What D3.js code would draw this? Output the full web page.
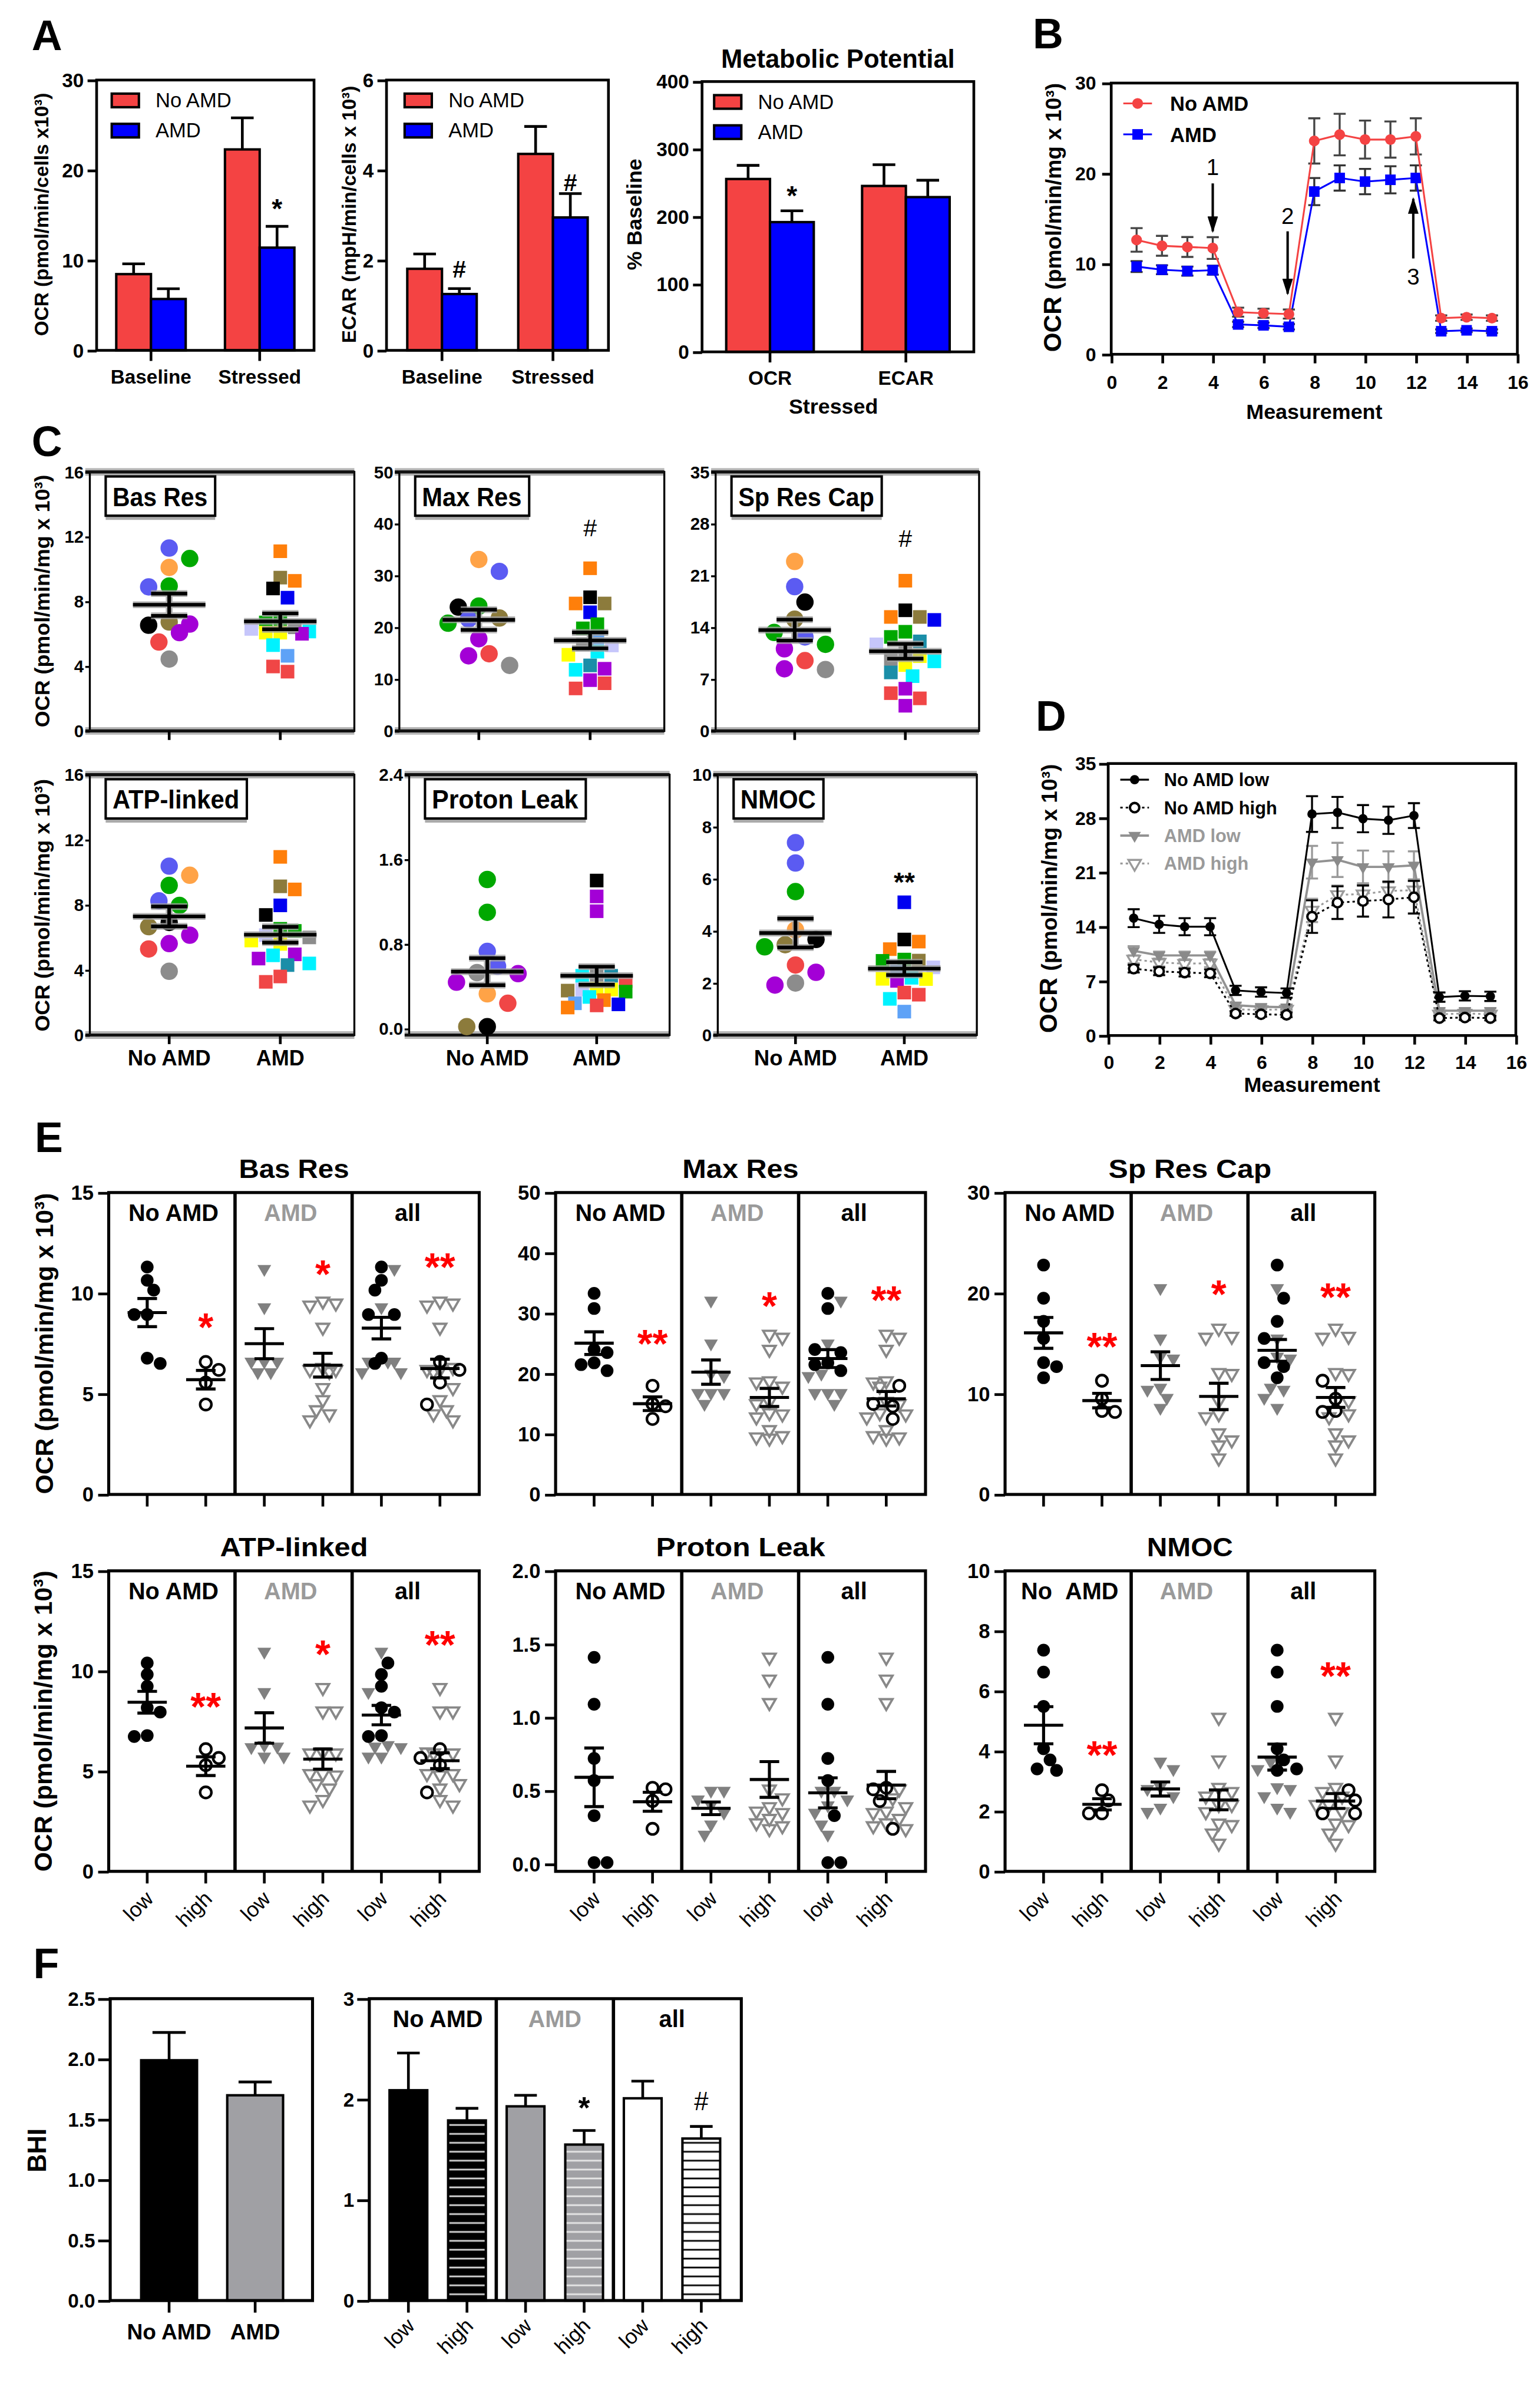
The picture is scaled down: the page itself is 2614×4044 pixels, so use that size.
<!DOCTYPE html>
<html>
<head>
<meta charset="utf-8">
<title>OCR / ECAR figure</title>
<script src="https://cdn.jsdelivr.net/npm/d3@7/dist/d3.min.js"></script>
<style>
  body { margin: 0; background: #fff; }
  svg { display: block; }
</style>
</head>
<body>
<svg id="fig" width="2614" height="4044" viewBox="0 0 1020 1578"></svg>
<script>
// ---------------- data: panel A (mean, SEM) ----------------
const A_CATS = ["Baseline", "Stressed"];
const A_OCR_NO = [8.46, 22.3], A_OCR_NO_ERR = [1.14, 3.5];
const A_OCR_AMD = [5.7, 11.4], A_OCR_AMD_ERR = [1.14, 2.36];
const A_OCR_SIG = ["", "*"], A_OCR_SIG_AT = [0, 16.4];
const A_ECAR_NO = [1.81, 4.36], A_ECAR_NO_ERR = [0.33, 0.61];
const A_ECAR_AMD = [1.25, 2.95], A_ECAR_AMD_ERR = [0.12, 0.53];
const A_ECAR_SIG = ["#", "#"], A_ECAR_SIG_AT = [1.8, 3.73];
const A_MP_CATS = ["OCR", "ECAR"];
const A_MP_NO = [255.8, 245.5], A_MP_NO_ERR = [20.2, 31.5];
const A_MP_AMD = [192, 229], A_MP_AMD_ERR = [16.7, 25];
const A_MP_SIG = ["*", ""], A_MP_SIG_AT = [240, 0];

// ---------------- data: panels B and D (measurement traces) ----------------
const MEAS = [1, 2, 3, 4, 5, 6, 7, 8, 9, 10, 11, 12, 13, 14, 15];
const B_NO = [12.65, 12.0, 11.87, 11.75, 4.66, 4.54, 4.45, 23.6, 24.3, 23.75, 23.75, 24.1, 4.0, 4.1, 4.0];
const B_NO_ERR = [1.3, 1.1, 1.1, 1.2, 0.5, 0.5, 0.5, 2.5, 2.3, 2.1, 2.0, 2.0, 0.3, 0.3, 0.3];
const B_AMD = [9.7, 9.35, 9.2, 9.3, 3.3, 3.2, 3.04, 18.0, 19.5, 19.1, 19.3, 19.5, 2.55, 2.65, 2.55];
const B_AMD_ERR = [0.6, 0.5, 0.5, 0.5, 0.3, 0.3, 0.3, 1.5, 1.4, 1.4, 1.5, 1.4, 0.2, 0.2, 0.2];
// injections: measurement, arrow tail, arrow head, label, label level
const B_ARROWS = [[4, 18.9, 13.6, "1", 20.7], [6.95, 13.6, 6.7, "2", 15.3], [11.9, 10.6, 17.2, "3", 8.6]];

const D_NO_LOW = [15.1, 14.3, 14.0, 14.0, 5.8, 5.6, 5.46, 28.5, 28.7, 27.9, 27.7, 28.3, 4.94, 5.1, 5.04];
const D_NO_LOW_ERR = [1.15, 1.1, 1.1, 1.1, 0.6, 0.6, 0.6, 2.3, 2.0, 1.75, 1.75, 1.6, 0.6, 0.6, 0.6];
const D_NO_HIGH = [8.6, 8.26, 8.1, 8.0, 2.83, 2.73, 2.66, 15.3, 17.1, 17.3, 17.5, 17.8, 2.24, 2.31, 2.24];
const D_NO_HIGH_ERR = [0.5, 0.5, 0.5, 0.5, 0.3, 0.3, 0.3, 2.1, 2.1, 2.0, 2.3, 2.1, 0.3, 0.3, 0.3];
const D_AMD_LOW = [10.9, 10.3, 10.3, 10.3, 3.9, 3.7, 3.64, 22.3, 22.6, 21.7, 21.7, 21.9, 3.2, 3.2, 3.2];
const D_AMD_LOW_ERR = [0.6, 0.5, 0.5, 0.5, 0.3, 0.3, 0.3, 2.1, 2.2, 2.1, 2.0, 1.8, 0.3, 0.3, 0.3];
const D_AMD_HIGH = [9.8, 9.4, 9.24, 9.3, 3.36, 3.3, 3.36, 16.1, 18.1, 18.2, 18.6, 18.7, 2.73, 2.84, 2.73];
const D_AMD_HIGH_ERR = [0.5, 0.5, 0.5, 0.5, 0.3, 0.3, 0.3, 1.5, 1.2, 1.2, 1.2, 1.2, 0.3, 0.3, 0.3];

// ---------------- data: panel C (per donor, colour key = donor) ----------------
const C_BAS_NO = [11.3, 10.65, 10.1, 8.95, 8.9, 6.73, 6.6, 6.53, 6.07, 5.49, 4.44];
const C_BAS_NO_ID = ["blue", "green", "orange", "green", "blue", "olive", "purple", "black", "purple", "red", "gray"];
const C_BAS_AMD = [11.1, 9.47, 9.27, 8.8, 8.23, 6.92, 6.7, 6.4, 6.3, 6.14, 6.07, 6.07, 6.0, 5.3, 4.64, 3.98, 3.66];
const C_BAS_AMD_ID = ["dorange", "olive", "dorange", "black", "dblue", "green", "green", "gray", "lavender", "cyan", "yellow", "yellow", "purple", "cyan", "lightblue", "red", "red"];

const C_MAX_NO = [33.1, 30.8, 24.1, 23.9, 21.8, 21.6, 20.8, 17.8, 14.9, 14.5, 12.65];
const C_MAX_NO_ID = ["orange", "blue", "green", "black", "olive", "blue", "green", "purple", "red", "purple", "gray"];
const C_MAX_AMD = [31.4, 25.8, 24.6, 24.6, 22.9, 20.6, 19.8, 18.0, 16.7, 16.5, 15.3, 14.7, 12.65, 12.0, 11.8, 9.8, 9.2, 8.2];
const C_MAX_AMD_ID = ["dorange", "black", "olive", "dorange", "dblue", "green", "green", "lightblue", "gray", "lavender", "cyan", "yellow", "teal", "purple", "cyan", "purple", "red", "red"];

const C_SP_NO = [22.9, 19.5, 17.4, 15.1, 13.3, 12.7, 11.7, 11.1, 9.5, 8.4, 8.3];
const C_SP_NO_ID = ["orange", "blue", "black", "olive", "green", "blue", "green", "purple", "red", "purple", "gray"];
const C_SP_AMD = [20.3, 16.3, 15.4, 15.4, 15.0, 13.4, 12.7, 12.1, 11.7, 10.9, 10.1, 9.7, 9.4, 8.9, 7.9, 7.4, 5.7, 5.1, 4.4, 3.4];
const C_SP_AMD_ID = ["dorange", "black", "olive", "dorange", "dblue", "green", "green", "teal", "lavender", "gray", "yellow", "gray", "cyan", "yellow", "teal", "cyan", "purple", "red", "red", "purple"];

const C_ATP_NO = [10.38, 9.82, 9.2, 8.25, 7.97, 6.92, 6.66, 6.14, 5.62, 5.29, 3.92];
const C_ATP_NO_ID = ["blue", "orange", "green", "blue", "green", "black", "olive", "purple", "purple", "red", "gray"];
const C_ATP_AMD = [10.95, 9.14, 8.95, 7.97, 7.38, 6.53, 6.4, 6.14, 6.0, 5.81, 5.6, 4.96, 4.9, 4.7, 4.4, 4.3, 3.6, 3.27];
const C_ATP_AMD_ID = ["dorange", "olive", "dorange", "dblue", "black", "green", "green", "lavender", "gray", "yellow", "yellow", "purple", "cyan", "purple", "cyan", "teal", "red", "red"];

const C_PL_NO = [1.41, 1.10, 0.73, 0.59, 0.53, 0.52, 0.44, 0.33, 0.24, 0.02, 0.02];
const C_PL_NO_ID = ["green", "green", "blue", "blue", "gray", "purple", "purple", "orange", "red", "black", "olive"];
const C_PL_AMD = [1.40, 1.25, 1.11, 0.51, 0.5, 0.5, 0.45, 0.38, 0.37, 0.37, 0.36, 0.35, 0.3, 0.27, 0.24, 0.23, 0.22, 0.2];
const C_PL_AMD_ID = ["black", "purple", "purple", "gray", "teal", "cyan", "red", "yellow", "lavender", "yellow", "olive", "green", "cyan", "dorange", "lightblue", "dblue", "red", "dorange"];

const C_NMOC_NO = [7.39, 6.61, 5.51, 4.04, 3.67, 3.47, 3.39, 2.69, 2.41, 2.0, 1.92];
const C_NMOC_NO_ID = ["blue", "blue", "green", "orange", "black", "olive", "green", "red", "purple", "gray", "purple"];
const C_NMOC_AMD = [5.1, 3.67, 3.59, 3.3, 2.9, 2.86, 2.85, 2.6, 2.45, 2.2, 2.16, 2.15, 2.08, 1.63, 1.55, 1.39, 0.9];
const C_NMOC_AMD_ID = ["dblue", "black", "dorange", "dorange", "green", "olive", "green", "lavender", "lightblue", "cyan", "yellow", "yellow", "purple", "red", "red", "cyan", "lightblue"];

// ---------------- data: panel E (low / high groups) ----------------
const E_GROUPS = ["No AMD", "AMD", "all"];
const E_XLABELS = ["low", "high", "low", "high", "low", "high"];

const E_BAS_NO_LOW = [11.3, 10.64, 10.15, 8.94, 8.94, 6.77, 6.51];
const E_BAS_NO_HIGH = [6.58, 6.19, 5.56, 4.47];
const E_BAS_AMD_LOW = [11.2, 9.3, 6.6, 6.6, 6.6, 6.07, 6.07];
const E_BAS_AMD_HIGH = [9.6, 9.5, 9.4, 8.3, 6.3, 6.2, 6.2, 6.1, 5.3, 4.7, 4.2, 4.0, 3.7];
const E_BAS_SIG = [[1, "*", 8.77], [3, "*", 11.4], [5, "**", 11.75]];

const E_MAX_NO_LOW = [33.3, 30.8, 24.0, 23.5, 21.8, 21.5, 20.5];
const E_MAX_NO_HIGH = [18.0, 15.0, 14.6, 12.5];
const E_MAX_AMD_LOW = [32.1, 25.0, 20.0, 19.6, 16.8, 16.8, 16.8, 15.0];
const E_MAX_AMD_HIGH = [26.5, 26.0, 24.0, 18.8, 18.6, 17.9, 15.4, 15.0, 13.5, 13.3, 12.8, 10.7, 9.7, 9.5, 9.3];
const E_MAX_SIG = [[1, "**", 26.5], [3, "*", 32.7], [5, "**", 33.7]];

const E_SP_NO_LOW = [22.8, 19.5, 17.2, 15.5, 13.1, 12.7, 11.6];
const E_SP_NO_HIGH = [11.3, 9.5, 8.3, 8.2];
const E_SP_AMD_LOW = [20.5, 15.5, 13.7, 13.5, 10.6, 10.4, 9.6, 8.6];
const E_SP_AMD_HIGH = [16.5, 15.7, 15.6, 12.1, 12.0, 9.3, 8.0, 7.7, 6.1, 5.4, 4.9, 3.6];
const E_SP_SIG = [[1, "**", 15.6], [3, "*", 20.8], [5, "**", 20.5]];

const E_ATP_NO_LOW = [10.4, 9.83, 9.24, 8.17, 7.95, 6.78, 6.73];
const E_ATP_NO_HIGH = [6.1, 5.66, 5.3, 3.94];
const E_ATP_AMD_LOW = [10.96, 8.95, 6.3, 6.23, 6.2, 5.73, 5.73];
const E_ATP_AMD_HIGH = [9.17, 8.0, 8.0, 5.95, 5.9, 5.9, 4.87, 4.87, 4.8, 4.37, 4.15, 3.58, 3.3];
const E_ATP_SIG = [[1, "**", 8.67], [3, "*", 11.3], [5, "**", 11.75]];

const E_PL_NO_LOW = [1.41, 1.09, 0.72, 0.57, 0.33, 0.01, 0.01];
const E_PL_NO_HIGH = [0.52, 0.51, 0.43, 0.24];
const E_PL_AMD_LOW = [0.5, 0.5, 0.44, 0.4, 0.35, 0.27, 0.2];
const E_PL_AMD_HIGH = [1.41, 1.26, 1.1, 0.51, 0.45, 0.39, 0.36, 0.35, 0.31, 0.28, 0.26, 0.24];
const E_PL_SIG = [];

const E_NMOC_NO_LOW = [7.36, 6.63, 5.49, 4.08, 3.71, 3.41, 3.36];
const E_NMOC_NO_HIGH = [2.7, 2.36, 1.93, 1.93];
const E_NMOC_AMD_LOW = [3.65, 3.4, 2.8, 2.74, 2.5, 2.12, 1.98];
const E_NMOC_AMD_HIGH = [5.12, 3.7, 2.79, 2.65, 2.5, 2.22, 2.22, 1.98, 1.6, 1.55, 1.27, 0.93];
const E_NMOC_SIG = [[1, "**", 4.17], [5, "**", 6.8]];

// ---------------- data: panel F (BHI) ----------------
const F_CATS1 = ["No AMD", "AMD"];
const F_BHI1 = [1.99, 1.70], F_BHI1_ERR = [0.23, 0.11];
const F_BHI2 = [2.09, 1.79, 1.93, 1.55, 2.01, 1.61];
const F_BHI2_ERR = [0.37, 0.12, 0.11, 0.14, 0.17, 0.12];
const F_SIG2 = ["", "", "", "*", "", "#"], F_SIG2_AT = [0, 0, 0, 1.98, 0, 1.98];

// ---------------- drawing ----------------
const FONT = '"Liberation Sans", Arial, Helvetica, sans-serif';
const RED = "#f44343", BLUE = "#0000ff";
const DONOR = {
  blue: "#5b5bf2", orange: "#ffa347", green: "#00a800", olive: "#8c7b3c", purple: "#a300d6",
  red: "#f04646", gray: "#8c8c8c", black: "#000000", dblue: "#0000f0", dorange: "#ff7f0a",
  yellow: "#ffff00", cyan: "#00f2ff", lightblue: "#5ea2f7", teal: "#1a8ea8", lavender: "#c6c6fb"
};

const svg = d3.select("#fig");
svg.append("rect").attr("width", 1020).attr("height", 1578).attr("fill", "#fff");
const defs = svg.append("defs");

function t(g, x, y, s, size, o = {}) {
  const el = g.append("text")
    .attr("x", x).attr("y", y)
    .attr("font-family", FONT)
    .attr("font-size", size)
    .attr("font-weight", o.weight || "bold")
    .attr("text-anchor", o.anchor || "middle")
    .attr("fill", o.fill || "#000")
    .text(s);
  if (o.w) el.attr("textLength", o.w).attr("lengthAdjust", "spacingAndGlyphs");
  if (o.rotate) el.attr("transform", `rotate(${o.rotate},${x},${y})`);
  return el;
}

// text centred vertically on yc (asterisks sit high in the em box)
function mark(g, x, yc, s, size, fill, weight) {
  const k = s.includes("*") ? 0.57 : 0.35;
  return t(g, x, yc + k * size, s, size, {fill: fill || "#000", weight: weight || "bold"});
}

function yTitle(cx, cy, parts) {
  const big = d3.max(parts, p => p[1]);
  const el = svg.append("text")
    .attr("transform", `translate(${cx + 0.36 * big},${cy}) rotate(-90)`)
    .attr("text-anchor", "middle")
    .attr("font-family", FONT).attr("font-weight", "bold").attr("fill", "#000");
  parts.forEach(p => el.append("tspan").attr("font-size", p[1]).text(p[0]));
}

function leftAxis(g, y, x0, ticks, fmt, o) {
  const ax = g.append("g").attr("transform", `translate(${x0},0)`)
    .call(d3.axisLeft(y).tickValues(ticks).tickFormat(fmt).tickSize(o.tick).tickPadding(o.pad));
  ax.select(".domain").remove();
  ax.selectAll(".tick line").attr("stroke", "#000").attr("stroke-width", o.sw || 1.8);
  ax.selectAll(".tick text").attr("font-family", FONT).attr("font-size", o.size)
    .attr("font-weight", o.weight || "bold").attr("fill", "#000");
  return ax;
}

function frame(g, l, tp, r, b, sw) {
  g.append("rect").attr("x", l).attr("y", tp).attr("width", r - l).attr("height", b - tp)
    .attr("fill", "none").attr("stroke", "#000").attr("stroke-width", sw || 1.8);
}

function vtick(g, x, y0, len) {
  g.append("line").attr("x1", x).attr("x2", x).attr("y1", y0).attr("y2", y0 + len)
    .attr("stroke", "#000").attr("stroke-width", 1.8);
}

// horizontal spread of scatter points, alternating sides, limited width
function jitter(vals, y, step, minDist, maxSlot) {
  const order = d3.range(vals.length).sort((a, b) => vals[b] - vals[a]);
  const placed = [], off = new Array(vals.length).fill(0);
  let side = 1;
  order.forEach(i => {
    const py = y(vals[i]);
    const slots = [0];
    for (let s = 1; s <= maxSlot; s++) slots.push(side * s, -side * s);
    const gap = px => placed.length ? d3.min(placed, p => Math.hypot(p[0] - px, p[1] - py)) : Infinity;
    let best = slots.find(s => gap(s * step) >= minDist);
    if (best === undefined) best = d3.greatest(slots, s => gap(s * step));
    if (best !== 0) side = -Math.sign(best);
    off[i] = best * step;
    placed.push([off[i], py]);
  });
  return off;
}

function meanSem(v) {
  return [d3.mean(v), d3.deviation(v) / Math.sqrt(v.length)];
}

// ---------- panel letters ----------
[["A", 21, 33], ["B", 684, 32], ["C", 21, 302], ["D", 686, 484], ["E", 23, 763], ["F", 22, 1310]]
  .forEach(d => t(svg, d[1], d[2], d[0], 28, {anchor: "start"}));

// ---------- panel A ----------
function barsA(o) {
  const g = svg.append("g");
  const y = d3.scaleLinear().domain(o.domain).range([o.bottom, o.top]);
  const x = d3.scaleBand().domain(o.cats).range([o.left, o.right]);
  const grp = d3.scaleBand().domain(["No AMD", "AMD"]).range([-o.barW, o.barW]);
  const rows = o.cats.flatMap((c, i) => [
    {c, k: "No AMD", v: o.no[i], e: o.noErr[i], fill: RED, sig: ""},
    {c, k: "AMD", v: o.amd[i], e: o.amdErr[i], fill: BLUE, sig: o.sig[i], at: o.sigAt[i]}
  ]);
  const cx = d => x(d.c) + x.bandwidth() / 2 + grp(d.k) + grp.bandwidth() / 2;
  g.append("g").selectAll("path").data(rows).join("path")
    .attr("d", d => `M${cx(d)},${y(d.v)}V${y(d.v + d.e)}M${cx(d) - 7.5},${y(d.v + d.e)}H${cx(d) + 7.5}`)
    .attr("fill", "none").attr("stroke", "#000").attr("stroke-width", 1.8);
  g.append("g").selectAll("rect").data(rows).join("rect")
    .attr("x", d => cx(d) - o.barW / 2).attr("y", d => y(d.v))
    .attr("width", o.barW).attr("height", d => y(0) - y(d.v))
    .attr("fill", d => d.fill).attr("stroke", "#000").attr("stroke-width", 1.6);
  frame(g, o.left, o.top, o.right, o.bottom);
  leftAxis(g, y, o.left, o.ticks, d3.format("d"), {tick: 6, pad: 2.5, size: 13});
  o.cats.forEach(c => {
    const xc = x(c) + x.bandwidth() / 2;
    vtick(g, xc, o.bottom, 7);
    t(g, xc, o.bottom + 22, c, 13);
  });
  rows.filter(d => d.sig).forEach(d => mark(g, cx(d), y(d.at), d.sig, d.sig === "#" ? 16 : 18));
  [["No AMD", RED], ["AMD", BLUE]].forEach((l, i) => {
    g.append("rect").attr("x", o.legX).attr("y", o.top + 9 + i * 20).attr("width", 18).attr("height", 9)
      .attr("fill", l[1]).attr("stroke", "#000").attr("stroke-width", 1.6);
    t(g, o.legX + 29, o.top + 18 + i * 20, l[0], 13.5, {anchor: "start", weight: "normal"});
  });
}

barsA({left: 64, right: 208, top: 53, bottom: 232, domain: [0, 30], ticks: [0, 10, 20, 30], barW: 23,
  cats: A_CATS, no: A_OCR_NO, noErr: A_OCR_NO_ERR, amd: A_OCR_AMD, amdErr: A_OCR_AMD_ERR,
  sig: A_OCR_SIG, sigAt: A_OCR_SIG_AT, legX: 74});
barsA({left: 256, right: 403, top: 53, bottom: 232, domain: [0, 6], ticks: [0, 2, 4, 6], barW: 23,
  cats: A_CATS, no: A_ECAR_NO, noErr: A_ECAR_NO_ERR, amd: A_ECAR_AMD, amdErr: A_ECAR_AMD_ERR,
  sig: A_ECAR_SIG, sigAt: A_ECAR_SIG_AT, legX: 268});
barsA({left: 465, right: 645, top: 54, bottom: 233, domain: [0, 400], ticks: [0, 100, 200, 300, 400], barW: 29,
  cats: A_MP_CATS, no: A_MP_NO, noErr: A_MP_NO_ERR, amd: A_MP_AMD, amdErr: A_MP_AMD_ERR,
  sig: A_MP_SIG, sigAt: A_MP_SIG_AT, legX: 473});
t(svg, 555, 45, "Metabolic Potential", 17);
t(svg, 552, 274, "Stressed", 14);
yTitle(27.5, 142, [["OCR (pmol/min/cells x10³)", 13]]);
yTitle(231, 142, [["ECAR (mpH/min/cells x 10³)", 13]]);
yTitle(420, 142, [["% Baseline", 14]]);

// ---------- panels B and D ----------
defs.append("marker").attr("id", "arrow").attr("viewBox", "0 0 10 10")
  .attr("refX", 9).attr("refY", 5).attr("markerUnits", "userSpaceOnUse")
  .attr("markerWidth", 11).attr("markerHeight", 7).attr("orient", "auto")
  .attr("preserveAspectRatio", "none")
  .append("path").attr("d", "M0,0L10,5L0,10z").attr("fill", "#000");

function traces(o) {
  const g = svg.append("g");
  const x = d3.scaleLinear().domain([0, 16]).range([o.left, o.right]);
  const y = d3.scaleLinear().domain(o.domain).range([o.bottom, o.top]);
  o.series.forEach(s => {
    const pts = s.vals.map((v, i) => ({m: MEAS[i], v, e: s.errs[i]}));
    g.append("g").selectAll("path").data(pts).join("path")
      .attr("d", d => `M${x(d.m)},${y(d.v - d.e)}V${y(d.v + d.e)}M${x(d.m) - 4},${y(d.v + d.e)}h8M${x(d.m) - 4},${y(d.v - d.e)}h8`)
      .attr("fill", "none").attr("stroke", s.errColor).attr("stroke-width", 1.3);
    g.append("path").datum(pts)
      .attr("d", d3.line().x(d => x(d.m)).y(d => y(d.v)))
      .attr("fill", "none").attr("stroke", s.color).attr("stroke-width", s.lw || 1.2)
      .attr("stroke-dasharray", s.dash || null);
    g.append("g").selectAll("path").data(pts).join("path")
      .attr("transform", d => `translate(${x(d.m)},${y(d.v)})${s.down ? " rotate(180)" : ""}`)
      .attr("d", d3.symbol(s.symbol, s.size))
      .attr("fill", s.fill).attr("stroke", s.stroke || "none").attr("stroke-width", s.sw || 0);
  });
  frame(g, o.left, o.top, o.right, o.bottom);
  leftAxis(g, y, o.left, o.ticks, d3.format("d"), {tick: 6, pad: o.ypad, size: 12.5});
  const xa = g.append("g").attr("transform", `translate(0,${o.bottom})`)
    .call(d3.axisBottom(x).tickValues([0, 2, 4, 6, 8, 10, 12, 14, 16]).tickSize(6).tickPadding(o.xpad));
  xa.select(".domain").remove();
  xa.selectAll(".tick line").attr("stroke", "#000").attr("stroke-width", 1.8);
  xa.selectAll(".tick text").attr("font-family", FONT).attr("font-size", 12.5).attr("font-weight", "bold").attr("fill", "#000");
  t(g, (o.left + o.right) / 2, o.xTitleY, "Measurement", 14);
  // legend
  o.series.slice().reverse().forEach((s, i) => {
    const ly = o.top + o.legY0 + i * o.legStep;
    g.append("line").attr("x1", o.left + 8).attr("x2", o.left + 27).attr("y1", ly).attr("y2", ly)
      .attr("stroke", s.color).attr("stroke-width", s.lw || 1.2).attr("stroke-dasharray", s.dash || null);
    g.append("path").attr("transform", `translate(${o.left + 17.5},${ly})${s.down ? " rotate(180)" : ""}`)
      .attr("d", d3.symbol(s.symbol, s.size)).attr("fill", s.fill)
      .attr("stroke", s.stroke || "none").attr("stroke-width", s.sw || 0);
    t(g, o.left + o.legTextDx, ly + 0.36 * o.legSize, s.name, o.legSize, {anchor: "start", fill: s.textColor || "#000"});
  });
  return {g, x, y};
}

const B = traces({left: 736, right: 1005, top: 55, bottom: 234.6, domain: [0, 30], ticks: [0, 10, 20, 30],
  ypad: 4, xpad: 8, xTitleY: 277.5, legY0: 13.5, legStep: 20.5, legTextDx: 39, legSize: 13.5,
  series: [
    {name: "AMD", vals: B_AMD, errs: B_AMD_ERR, color: BLUE, errColor: "#333", symbol: d3.symbolSquare, size: 49, fill: BLUE},
    {name: "No AMD", vals: B_NO, errs: B_NO_ERR, color: RED, errColor: "#444", symbol: d3.symbolCircle, size: 40, fill: RED}
  ]});
B_ARROWS.forEach(a => {
  B.g.append("line").attr("x1", B.x(a[0])).attr("x2", B.x(a[0])).attr("y1", B.y(a[1])).attr("y2", B.y(a[2]))
    .attr("stroke", "#000").attr("stroke-width", 1.6).attr("marker-end", "url(#arrow)");
  mark(B.g, B.x(a[0]), B.y(a[4]), a[3], 15, "#000", "normal");
});
yTitle(697, 144, [["OCR ", 16.5], ["(pmol/min/mg x 10³)", 14.5]]);

traces({left: 734, right: 1004, top: 505.6, bottom: 685.7, domain: [0, 35], ticks: [0, 7, 14, 21, 28, 35],
  ypad: 2, xpad: 7.4, xTitleY: 723, legY0: 10.7, legStep: 18.5, legTextDx: 37, legSize: 12,
  series: [
    {name: "AMD high", vals: D_AMD_HIGH, errs: D_AMD_HIGH_ERR, color: "#9a9a9a", errColor: "#a0a0a0", dash: "1.6,2",
      symbol: d3.symbolTriangle, size: 30, down: true, fill: "#fff", stroke: "#9a9a9a", sw: 1.3, textColor: "#9a9a9a"},
    {name: "AMD low", vals: D_AMD_LOW, errs: D_AMD_LOW_ERR, color: "#929292", errColor: "#9a9a9a", lw: 1.5,
      symbol: d3.symbolTriangle, size: 30, down: true, fill: "#8a8a8a", textColor: "#9a9a9a"},
    {name: "No AMD high", vals: D_NO_HIGH, errs: D_NO_HIGH_ERR, color: "#000", errColor: "#000", dash: "1.6,2",
      symbol: d3.symbolCircle, size: 30, fill: "#fff", stroke: "#000", sw: 1.6},
    {name: "No AMD low", vals: D_NO_LOW, errs: D_NO_LOW_ERR, color: "#000", errColor: "#000",
      symbol: d3.symbolCircle, size: 30, fill: "#000"}
  ]});
yTitle(694, 595, [["OCR ", 16.5], ["(pmol/min/mg x 10³)", 14.5]]);

// ---------- panel C ----------
function scatterC(o) {
  const g = svg.append("g");
  const W = o.right - o.left;
  const y = d3.scaleLinear().domain(o.domain).range([o.bottom, o.top]);
  const x = d3.scalePoint().domain(["No AMD", "AMD"]).range([o.left + 0.30 * W, o.left + 0.72 * W]);
  [o.top, o.bottom].forEach(yy => {
    g.append("line").attr("x1", o.left - 3).attr("x2", o.right).attr("y1", yy).attr("y2", yy)
      .attr("stroke", "#b4b4b4").attr("stroke-width", 5);
  });
  frame(g, o.left, o.top, o.right, o.bottom, 1.3);
  [o.top, o.bottom].forEach(yy => {
    g.append("line").attr("x1", o.left - 3).attr("x2", o.right).attr("y1", yy).attr("y2", yy)
      .attr("stroke", "#111").attr("stroke-width", 2);
  });
  leftAxis(g, y, o.left, o.ticks, o.fmt, {tick: 3, pad: 1, size: 11.5, sw: 1.3});
  // title box
  g.append("line").attr("x1", o.left + 10.5).attr("x2", o.left + 20 + o.titleW).attr("y1", o.top + 30.5).attr("y2", o.top + 30.5)
    .attr("stroke", "#aaa").attr("stroke-width", 2.5);
  g.append("rect").attr("x", o.left + 10.5).attr("y", o.top + 3).attr("width", o.titleW + 9.5).attr("height", 26)
    .attr("fill", "#fff").attr("stroke", "#000").attr("stroke-width", 1.6);
  t(g, o.left + 15, o.top + 22.5, o.title, 17.5, {anchor: "start", w: o.titleW});
  const sets = [
    {k: "No AMD", vals: o.no, ids: o.noIds, sym: d3.symbolCircle, size: 104, step: 6.8, dist: 11.8, max: 3},
    {k: "AMD", vals: o.amd, ids: o.amdIds, sym: d3.symbolSquare, size: 81, step: 4.8, dist: 8.6, max: 4}
  ];
  sets.forEach(s => {
    const off = jitter(s.vals, y, s.step, s.dist, s.max);
    g.append("g").selectAll("path").data(s.vals).join("path")
      .attr("transform", (v, i) => `translate(${x(s.k) + off[i]},${y(v)})`)
      .attr("d", d3.symbol(s.sym, s.size))
      .attr("fill", (v, i) => DONOR[s.ids[i]]);
  });
  sets.forEach(s => {
    const [m, se] = meanSem(s.vals);
    const xc = x(s.k);
    const p = `M${xc - 24},${y(m)}H${xc + 24}M${xc},${y(m - se)}V${y(m + se)}` +
      `M${xc - 12},${y(m + se)}H${xc + 12}M${xc - 12},${y(m - se)}H${xc + 12}`;
    g.append("path").attr("d", p).attr("stroke", "#a0a0a0").attr("stroke-width", 4.5).attr("fill", "none").attr("opacity", 0.8);
    g.append("path").attr("d", p).attr("stroke", "#000").attr("stroke-width", 2.4).attr("fill", "none");
  });
  x.domain().forEach(k => vtick(g, x(k), o.bottom, 6));
  if (o.xLabels) {
    t(g, x("No AMD"), o.bottom + 20, "No AMD", 14.5, {w: 55});
    t(g, x("AMD"), o.bottom + 20, "AMD", 14.5, {w: 32});
  }
  if (o.sig) mark(g, x("AMD"), y(o.sigAt), o.sig, o.sig === "#" ? 16 : 18, "#000", o.sig === "#" ? "normal" : "bold");
}

const fmt0 = d3.format("d"), fmt1 = d3.format(".1f");
scatterC({left: 59.5, right: 234.7, top: 312.5, bottom: 484, domain: [0, 16], ticks: [0, 4, 8, 12, 16], fmt: fmt0,
  title: "Bas Res", titleW: 63, no: C_BAS_NO, noIds: C_BAS_NO_ID, amd: C_BAS_AMD, amdIds: C_BAS_AMD_ID});
scatterC({left: 264.5, right: 440, top: 312.5, bottom: 484, domain: [0, 50], ticks: [0, 10, 20, 30, 40, 50], fmt: fmt0,
  title: "Max Res", titleW: 66, no: C_MAX_NO, noIds: C_MAX_NO_ID, amd: C_MAX_AMD, amdIds: C_MAX_AMD_ID, sig: "#", sigAt: 39.2});
scatterC({left: 474, right: 648.5, top: 312.5, bottom: 484, domain: [0, 35], ticks: [0, 7, 14, 21, 28, 35], fmt: fmt0,
  title: "Sp Res Cap", titleW: 90, no: C_SP_NO, noIds: C_SP_NO_ID, amd: C_SP_AMD, amdIds: C_SP_AMD_ID, sig: "#", sigAt: 26});
scatterC({left: 59.5, right: 234.7, top: 513, bottom: 685.4, domain: [0, 16], ticks: [0, 4, 8, 12, 16], fmt: fmt0,
  title: "ATP-linked", titleW: 84, no: C_ATP_NO, noIds: C_ATP_NO_ID, amd: C_ATP_AMD, amdIds: C_ATP_AMD_ID, xLabels: true});
scatterC({left: 271, right: 443.5, top: 513, bottom: 685.4, domain: [-0.06, 2.4], ticks: [0, 0.8, 1.6, 2.4], fmt: fmt1,
  title: "Proton Leak", titleW: 97, no: C_PL_NO, noIds: C_PL_NO_ID, amd: C_PL_AMD, amdIds: C_PL_AMD_ID, xLabels: true});
scatterC({left: 475.4, right: 647, top: 513, bottom: 685.4, domain: [0, 10], ticks: [0, 2, 4, 6, 8, 10], fmt: fmt0,
  title: "NMOC", titleW: 50, no: C_NMOC_NO, noIds: C_NMOC_NO_ID, amd: C_NMOC_AMD, amdIds: C_NMOC_AMD_ID, xLabels: true,
  sig: "**", sigAt: 6.1});
yTitle(27.6, 398, [["OCR (pmol/min/mg x 10³)", 14]]);
yTitle(27.6, 599.5, [["OCR (pmol/min/mg x 10³)", 14]]);

// ---------- panel E ----------
function scatterE(o) {
  const g = svg.append("g");
  const y = d3.scaleLinear().domain(o.domain).range([o.bottom, o.top]);
  const x = d3.scalePoint().domain(d3.range(6)).range([o.left + 25.5, o.right - 26]);
  const cols = [
    [[o.noLow, "fc"]], [[o.noHigh, "oc"]], [[o.amdLow, "ft"]], [[o.amdHigh, "ot"]],
    [[o.amdLow, "ft"], [o.noLow, "fc"]], [[o.amdHigh, "ot"], [o.noHigh, "oc"]]
  ];
  cols.forEach((sets, ci) => {
    const pts = sets.flatMap(([vals, kind]) => vals.map(v => ({v, kind})));
    const off = jitter(pts.map(p => p.v), y, 4.3, 7.5, 3);
    g.append("g").selectAll("path").data(pts).join("path")
      .attr("transform", (p, i) => `translate(${x(ci) + off[i]},${y(p.v)})` + (p.kind[1] === "t" ? " rotate(180)" : ""))
      .attr("d", p => p.kind[1] === "c" ? d3.symbol(d3.symbolCircle, p.kind === "fc" ? 56 : 44)() : d3.symbol(d3.symbolTriangle, p.kind === "ft" ? 36 : 30)())
      .attr("fill", p => p.kind === "fc" ? "#000" : p.kind === "ft" ? "#808080" : "none")
      .attr("stroke", p => p.kind === "oc" ? "#000" : p.kind === "ot" ? "#888" : "none")
      .attr("stroke-width", p => p.kind === "oc" ? 1.7 : 1.5);
    const [m, se] = meanSem(pts.map(p => p.v));
    const xc = x(ci);
    g.append("path")
      .attr("d", `M${xc - 13},${y(m)}H${xc + 13}M${xc},${y(m - se)}V${y(m + se)}M${xc - 6.5},${y(m + se)}H${xc + 6.5}M${xc - 6.5},${y(m - se)}H${xc + 6.5}`)
      .attr("fill", "none").attr("stroke", "#000").attr("stroke-width", 2);
  });
  frame(g, o.left, o.top, o.right, o.bottom, 2);
  [(x(1) + x(2)) / 2, (x(3) + x(4)) / 2].forEach(xd => {
    g.append("line").attr("x1", xd).attr("x2", xd).attr("y1", o.top).attr("y2", o.bottom)
      .attr("stroke", "#000").attr("stroke-width", 2.2);
  });
  leftAxis(g, y, o.left, o.ticks, o.fmt, {tick: 7, pad: 3, size: 13.5});
  d3.range(6).forEach(i => {
    vtick(g, x(i), o.bottom, 8);
    if (o.xLabels) t(g, x(i) + 5, o.bottom + 19, E_XLABELS[i], 14, {anchor: "end", weight: "normal", rotate: -45});
  });
  const heads = [o.noName || E_GROUPS[0], E_GROUPS[1], E_GROUPS[2]];
  heads.forEach((h, i) => {
    t(g, (x(2 * i) + x(2 * i + 1)) / 2 - 2, o.top + 19, h, 15.5, {fill: i === 1 ? "#9a9a9a" : "#000"});
  });
  t(g, (o.left + o.right) / 2, o.top - 9.5, o.title, 17.5, {w: o.titleW});
  o.sig.forEach(s => mark(g, x(s[0]), y(s[2]), s[1], 26, "#ff0000"));
}

scatterE({left: 72, right: 317.4, top: 789.7, bottom: 989.6, domain: [0, 15], ticks: [0, 5, 10, 15], fmt: fmt0,
  title: "Bas Res", titleW: 73, noLow: E_BAS_NO_LOW, noHigh: E_BAS_NO_HIGH, amdLow: E_BAS_AMD_LOW, amdHigh: E_BAS_AMD_HIGH, sig: E_BAS_SIG});
scatterE({left: 368, right: 613, top: 789.7, bottom: 989.6, domain: [0, 50], ticks: [0, 10, 20, 30, 40, 50], fmt: fmt0,
  title: "Max Res", titleW: 77, noLow: E_MAX_NO_LOW, noHigh: E_MAX_NO_HIGH, amdLow: E_MAX_AMD_LOW, amdHigh: E_MAX_AMD_HIGH, sig: E_MAX_SIG});
scatterE({left: 665.7, right: 910.6, top: 789.7, bottom: 989.6, domain: [0, 30], ticks: [0, 10, 20, 30], fmt: fmt0,
  title: "Sp Res Cap", titleW: 108, noLow: E_SP_NO_LOW, noHigh: E_SP_NO_HIGH, amdLow: E_SP_AMD_LOW, amdHigh: E_SP_AMD_HIGH, sig: E_SP_SIG});
scatterE({left: 72, right: 317.4, top: 1040.2, bottom: 1239.2, domain: [0, 15], ticks: [0, 5, 10, 15], fmt: fmt0, xLabels: true,
  title: "ATP-linked", titleW: 98, noLow: E_ATP_NO_LOW, noHigh: E_ATP_NO_HIGH, amdLow: E_ATP_AMD_LOW, amdHigh: E_ATP_AMD_HIGH, sig: E_ATP_SIG});
scatterE({left: 368, right: 613, top: 1040.2, bottom: 1239.2, domain: [-0.05, 2], ticks: [0, 0.5, 1, 1.5, 2], fmt: fmt1, xLabels: true,
  title: "Proton Leak", titleW: 112, noLow: E_PL_NO_LOW, noHigh: E_PL_NO_HIGH, amdLow: E_PL_AMD_LOW, amdHigh: E_PL_AMD_HIGH, sig: E_PL_SIG});
scatterE({left: 665.7, right: 910.6, top: 1040.2, bottom: 1239.2, domain: [0, 10], ticks: [0, 2, 4, 6, 8, 10], fmt: fmt0, xLabels: true,
  title: "NMOC", titleW: 57, noName: "No\u00A0\u00A0AMD",
  noLow: E_NMOC_NO_LOW, noHigh: E_NMOC_NO_HIGH, amdLow: E_NMOC_AMD_LOW, amdHigh: E_NMOC_AMD_HIGH, sig: E_NMOC_SIG});
yTitle(29.3, 889.7, [["OCR (pmol/min/mg x 10³)", 16.7]]);
yTitle(28.5, 1139.7, [["OCR (pmol/min/mg x 10³)", 16.7]]);

// ---------- panel F ----------
function stripes(id, bg, fg) {
  const p = defs.append("pattern").attr("id", id).attr("patternUnits", "userSpaceOnUse")
    .attr("width", 8).attr("height", 5.9);
  p.append("rect").attr("width", 8).attr("height", 5.9).attr("fill", bg);
  p.append("rect").attr("y", 2.4).attr("width", 8).attr("height", 1.1).attr("fill", fg);
}
stripes("stBlack", "#000", "#d8d8d8");
stripes("stGray", "#a0a0a4", "#e8e8e8");
stripes("stWhite", "#fff", "#000");

function barsF(o) {
  const g = svg.append("g");
  const y = d3.scaleLinear().domain(o.domain).range([o.bottom, o.top]);
  const x = d3.scalePoint().domain(d3.range(o.vals.length)).range(o.xRange);
  const rows = o.vals.map((v, i) => ({i, v, e: o.errs[i]}));
  g.append("g").selectAll("path").data(rows).join("path")
    .attr("d", d => `M${x(d.i)},${y(d.v)}V${y(d.v + d.e)}M${x(d.i) - o.cap},${y(d.v + d.e)}H${x(d.i) + o.cap}`)
    .attr("fill", "none").attr("stroke", "#000").attr("stroke-width", 1.8);
  g.append("g").selectAll("rect").data(rows).join("rect")
    .attr("x", d => x(d.i) - o.barW / 2).attr("y", d => y(d.v))
    .attr("width", o.barW).attr("height", d => y(0) - y(d.v))
    .attr("fill", d => o.fills[d.i]).attr("stroke", "#000").attr("stroke-width", 1.6);
  frame(g, o.left, o.top, o.right, o.bottom, 2);
  leftAxis(g, y, o.left, o.ticks, o.fmt, {tick: 8, pad: 2, size: 13});
  rows.forEach(d => vtick(g, x(d.i), o.bottom, 8));
  return {g, x, y};
}

const F1 = barsF({left: 73, right: 207, top: 1323.5, bottom: 1523.4, domain: [0, 2.5], ticks: [0, 0.5, 1, 1.5, 2, 2.5],
  fmt: fmt1, vals: F_BHI1, errs: F_BHI1_ERR, xRange: [112, 169], barW: 37, cap: 11, fills: ["#000", "#a0a0a4"]});
F_CATS1.forEach((c, i) => t(F1.g, F1.x(i), 1549, c, 14.5));

const F2 = barsF({left: 244.6, right: 491, top: 1323.5, bottom: 1523.4, domain: [0, 3], ticks: [0, 1, 2, 3],
  fmt: fmt0, vals: F_BHI2, errs: F_BHI2_ERR, xRange: [270.5, 464.5], barW: 25, cap: 7.5,
  fills: ["#000", "url(#stBlack)", "#a0a0a4", "url(#stGray)", "#fff", "url(#stWhite)"]});
[(F2.x(1) + F2.x(2)) / 2, (F2.x(3) + F2.x(4)) / 2].forEach(xd => {
  F2.g.append("line").attr("x1", xd).attr("x2", xd).attr("y1", 1323.5).attr("y2", 1523.4)
    .attr("stroke", "#000").attr("stroke-width", 2.2);
});
E_GROUPS.forEach((h, i) => t(F2.g, (F2.x(2 * i) + F2.x(2 * i + 1)) / 2, 1342.2, h, 15.5, {fill: i === 1 ? "#9a9a9a" : "#000"}));
E_XLABELS.forEach((l, i) => t(F2.g, F2.x(i) + 5, 1541, l, 14, {anchor: "end", weight: "normal", rotate: -45}));
F_SIG2.forEach((s, i) => { if (s) mark(F2.g, F2.x(i), F2.y(F_SIG2_AT[i]), s, s === "#" ? 17 : 20, "#000", s === "#" ? "normal" : "bold"); });
yTitle(24.4, 1424, [["BHI", 17]]);
</script>
</body>
</html>
